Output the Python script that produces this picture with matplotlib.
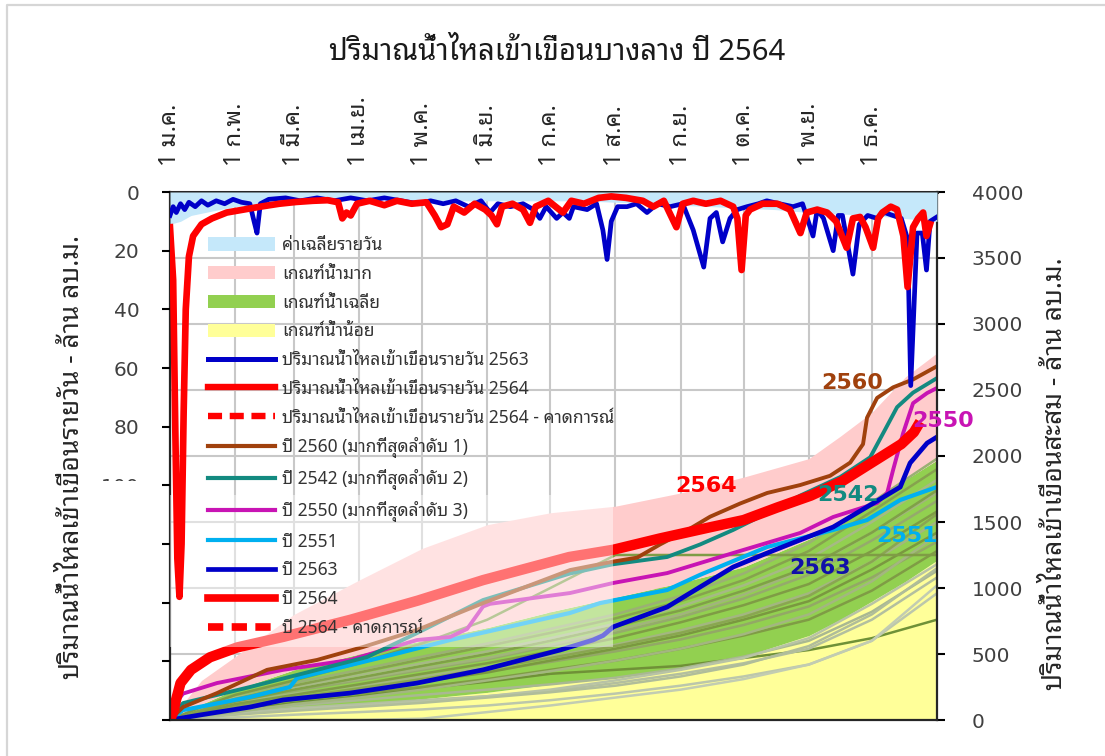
import matplotlib
matplotlib.use("Agg")
import matplotlib.pyplot as plt
from matplotlib import font_manager as fm
from matplotlib.patches import Patch, Rectangle
from matplotlib.lines import Line2D

# ---------- fonts: pick an installed family that has Thai glyphs ----------
_available = {f.name for f in fm.fontManager.ttflist}
_thai_candidates = ["Noto Sans Thai Looped", "IBM Plex Sans Thai Looped", "Sarabun",
                    "Noto Sans Thai", "Anuphan", "IBM Plex Sans Thai", "Bai Jamjuree",
                    "K2D", "Krub", "Niramit", "Kanit", "Prompt", "Mali", "Trirong"]
thai_font = next((n for n in _thai_candidates if n in _available), "DejaVu Sans")
plt.rcParams["font.family"] = [thai_font, "DejaVu Sans"]

# ---------- data ----------
title = "ปริมาณน้ำไหลเข้าเขื่อนบางลาง ปี 2564"
ylabel_left = "ปริมาณน้ำไหลเข้าเขื่อนรายวัน - ล้าน ลบ.ม."
ylabel_right = "ปริมาณน้ำไหลเข้าเขื่อนสะสม - ล้าน ลบ.ม."

month_days = [0, 31, 59, 90, 120, 151, 181, 212, 243, 273, 304, 334]
month_labels = ["1 ม.ค.", "1 ก.พ.", "1 มี.ค.", "1 เม.ย.", "1 พ.ค.", "1 มิ.ย.",
                "1 ก.ค.", "1 ส.ค.", "1 ก.ย.", "1 ต.ค.", "1 พ.ย.", "1 ธ.ค."]

# daily inflow (left axis, million m3)
avg_days = [0, 5, 10, 20, 31, 45, 59, 75, 90, 105, 120, 135, 151, 166, 181, 196,
            212, 227, 243, 258, 273, 288, 304, 319, 334, 349, 365]
avg_vals = [11, 10, 8, 6.5, 5, 4, 3, 2.5, 2.5, 2.5, 3, 3, 3, 3, 3, 3,
            3.5, 4, 4.5, 5, 5.5, 6, 7, 7.5, 8, 9, 10]

daily2563_days = [0, 1.5, 3, 5, 7, 9, 12, 15, 18, 22, 26, 30, 34, 38, 40, 41.4, 43, 47,
                  55, 62, 70, 78, 86, 94, 102, 110, 118, 124, 130, 136, 142, 148, 152.3,
                  156, 162, 168, 173, 176, 179, 184, 187, 190, 192, 198.5, 203, 206, 208,
                  210, 213, 217.5, 222, 227, 232, 238, 244, 249, 254, 257, 260, 263,
                  266.5, 270, 274.6, 280, 284, 290, 296.5, 301, 306, 308, 311, 315.6,
                  318, 320, 325, 328, 332, 336.5, 340, 344, 348, 351, 352.5, 354, 355.5,
                  358, 360, 361.7, 365]
daily2563_vals = [8, 5, 7, 4, 6, 3.5, 5, 3, 4.5, 3, 4, 2.5, 3.5, 4, 10, 14, 4, 2.5,
                  2, 3, 2, 3, 2, 3, 2, 3, 4, 3, 4, 3, 5, 3, 7,
                  4, 5, 4, 6, 9, 5, 9, 7, 9, 5, 6, 4, 13, 23,
                  10, 5, 5, 4, 7, 4, 5, 4, 13, 25.6, 9, 7, 17,
                  9, 6, 5, 4, 3, 4, 5, 4, 15, 6, 9, 20,
                  8, 8, 28, 11, 8, 9, 7, 8, 9, 16, 66, 40, 14,
                  14, 26.6, 10, 8.5]

daily2564_days = [0, 1.5, 2.5, 3.5, 4.5, 5.5, 6.5, 7.5, 9, 11, 15, 20, 27, 35, 43, 52,
                  60, 68, 75, 80, 82, 84, 86, 89, 95, 102, 108, 115, 122, 126, 129,
                  132, 135, 140, 145, 150, 153, 155.6, 158, 163, 168, 171.3, 174, 180,
                  187, 191, 197, 204, 210, 217, 225, 230, 235, 241, 244, 249, 255, 262,
                  268, 270, 272, 274, 276, 282, 289, 295, 300, 303, 308, 312.7, 317,
                  322, 325, 328.4, 331, 334.6, 337, 339, 343, 346, 349, 351, 353.6,
                  356, 358.4, 360, 361.7]
daily2564_vals = [12, 30, 80, 125, 138, 120, 75, 40, 22, 15, 11, 9, 7, 6, 5, 4,
                  3.4, 3, 2.8, 3.5, 9, 7, 8, 4, 3, 4.5, 3, 4, 3.5, 8, 12,
                  11, 5, 7, 4, 6, 8, 11, 5, 4, 6, 10.5, 5, 3,
                  7, 3, 4, 2, 1.5, 2, 3, 5, 3, 12, 4, 3, 4, 3,
                  5, 9, 26.6, 8, 6, 4, 4, 6, 14, 7, 6, 7, 10,
                  19, 9, 8.5, 12, 19, 9, 7, 5, 6, 15, 32.4, 12,
                  9, 7, 15, 11]

# cumulative inflow criteria bands (right axis, million m3)
band_days = [0, 15, 31, 59, 90, 120, 151, 181, 212, 243, 273, 304, 319, 334, 350, 365]
low_vals = [0, 20, 45, 80, 120, 160, 210, 270, 320, 380, 480, 640, 760, 900, 1050, 1210]
mid_vals = [0, 120, 230, 380, 500, 600, 700, 820, 930, 1040, 1160, 1370, 1480, 1640, 1820, 1970]
high_vals = [0, 300, 480, 800, 1060, 1300, 1480, 1570, 1620, 1720, 1840, 1980, 2150, 2330, 2600, 2780]

# other historical years (cumulative)
hist_days = [0, 15, 31, 59, 90, 120, 151, 181, 212, 243, 273, 304, 334, 365]
hist_years = [
    [0, 35, 70, 130, 180, 240, 290, 350, 380, 410, 470, 530, 620, 760],
    [0, 10, 20, 40, 60, 80, 110, 150, 200, 260, 330, 420, 600, 960],
    [0, 0, 0, 0, 0, 10, 60, 110, 170, 230, 310, 420, 600, 1020],
    [0, 30, 50, 90, 120, 150, 180, 220, 280, 350, 430, 540, 760, 1080],
    [0, 40, 70, 110, 150, 190, 230, 270, 320, 390, 480, 600, 820, 1130],
    [0, 25, 45, 80, 110, 140, 180, 230, 300, 380, 470, 620, 880, 1180],
    [0, 20, 40, 70, 100, 130, 170, 210, 260, 330, 420, 560, 800, 1150],
    [0, 50, 90, 150, 200, 250, 310, 380, 450, 540, 640, 760, 980, 1280],
    [0, 60, 110, 170, 230, 300, 370, 440, 520, 610, 720, 860, 1080, 1350],
    [0, 30, 60, 120, 170, 230, 300, 370, 450, 540, 650, 800, 1050, 1400],
    [0, 45, 100, 160, 220, 290, 360, 450, 540, 640, 760, 900, 1140, 1420],
    [0, 70, 130, 200, 260, 330, 400, 480, 570, 680, 800, 960, 1200, 1500],
    [0, 50, 100, 170, 240, 310, 390, 470, 560, 660, 780, 940, 1200, 1560],
    [0, 55, 120, 190, 270, 350, 430, 520, 620, 740, 870, 1030, 1280, 1580],
    [0, 80, 150, 220, 300, 380, 460, 560, 660, 780, 920, 1100, 1360, 1660],
    [0, 85, 160, 240, 310, 390, 470, 570, 680, 800, 950, 1150, 1420, 1720],
    [0, 65, 140, 230, 320, 410, 500, 600, 710, 830, 980, 1160, 1420, 1740],
    [0, 90, 170, 250, 340, 430, 520, 620, 730, 860, 1020, 1220, 1500, 1820],
    [0, 75, 160, 260, 360, 460, 560, 660, 770, 900, 1060, 1280, 1580, 1900],
    [0, 100, 190, 280, 380, 480, 580, 690, 800, 940, 1110, 1340, 1650, 1980],
    [0, 100, 190, 300, 430, 580, 760, 1000, 1250, 1250, 1250, 1250, 1250, 1250],
]
hist_colors = ["#6f9137", "#bcc7ab", "#c2ccb2", "#b3bf9f", "#a9b892", "#b8c3a6",
               "#b0bd9a", "#7f9c45", "#93a866", "#a3b680", "#7a9840", "#a3b680",
               "#8aa552", "#7f9c45", "#95aa6c", "#a1b47c", "#80a048", "#a6b985",
               "#86a24e", "#9bb074", "#7f9c45"]

cum2551_days = [0, 6.2, 38.1, 57.1, 60.4, 101.4, 133.3, 190.4, 204.7, 236.6, 252.3,
                284.2, 315.6, 331.7, 347.5, 365]
cum2551_vals = [0, 75, 174, 250, 318, 477, 606, 811, 886, 985, 1100,
                1311, 1440, 1515, 1667, 1765]

cum2550_days = [0, 3.8, 6.2, 22.4, 53.8, 85.7, 117.6, 133.3, 141.4, 149, 152.3, 190.4,
                210.9, 236.6, 268, 299.9, 315.6, 336.5, 341.3, 344.1, 348.9, 353.6,
                360.3, 365]
cum2550_vals = [0, 150, 200, 280, 380, 455, 606, 629, 690, 860, 880, 962,
                1038, 1113, 1265, 1417, 1538, 1644, 1720, 1894, 2174, 2400,
                2477, 2515]

cum2542_days = [0, 6.2, 38.1, 70, 93.8, 117.6, 149, 190.4, 210.9, 236.6, 252.3, 268,
                284.2, 299.9, 318.9, 333.2, 340.3, 346, 353.6, 365]
cum2542_vals = [0, 128, 250, 380, 477, 659, 909, 1110, 1180, 1235, 1330, 1440,
                1568, 1700, 1840, 1990, 2200, 2370, 2480, 2590]

cum2560_days = [0, 6.2, 22.4, 46.2, 70, 91.9, 117.6, 149, 190.4, 210.9, 222.3, 233.2,
                247.5, 257, 271.3, 284.2, 299.9, 314.1, 323.7, 329.8, 331.7, 336.5,
                344.1, 353.6, 365]
cum2560_vals = [0, 98, 204, 380, 455, 553, 682, 886, 1136, 1200, 1230, 1330,
                1450, 1540, 1640, 1720, 1780, 1850, 1950, 2090, 2290, 2440,
                2520, 2580, 2680]

cum2563_days = [0, 14.3, 38.1, 53.8, 85.7, 117.6, 149, 185.6, 201.3, 206.1, 210.9,
                236.6, 252.3, 268, 284.2, 299.9, 315.6, 331.7, 347.5, 352.2, 360.3, 365]
cum2563_vals = [0, 38, 98, 152, 204, 280, 380, 530, 606, 640, 705,
                856, 1008, 1159, 1265, 1364, 1462, 1614, 1765, 1947, 2098, 2144]

cum2564_days = [0, 1.5, 3, 5, 10, 19, 32, 54, 86, 118, 149, 190, 211, 233, 257, 273,
                289, 305, 320, 337, 348, 354, 357]
cum2564_vals = [0, 60, 160, 280, 380, 475, 550, 630, 760, 905, 1060, 1235, 1290,
                1375, 1460, 1515, 1610, 1700, 1810, 1980, 2090, 2180, 2260]

# ---------- colours ----------
c_avg = "#c5e8fa"
c_high = "#ffcccc"
c_mid = "#92d050"
c_low = "#ffff99"
c_blue = "#0000c8"
c_red = "#ff0000"
c_brown = "#a0410d"
c_teal = "#138a80"
c_mag = "#c814b4"
c_lblue = "#00b0f0"

# ---------- figure ----------
W, H = 1105, 756
fig = plt.figure(figsize=(W / 100, H / 100), dpi=100)
fig.patch.set_facecolor("white")
L, R, T, B = 170, 937, 192, 720
pos = [L / W, 1 - B / H, (R - L) / W, (B - T) / H]

ax2 = fig.add_axes(pos)               # cumulative (right axis), bottom layer
ax = fig.add_axes(pos, sharex=ax2)    # daily (left axis), top layer
ax.patch.set_visible(False)

# --- cumulative layer ---
ax2.fill_between(band_days, 0, low_vals, color=c_low, lw=0, zorder=1)
ax2.fill_between(band_days, low_vals, mid_vals, color=c_mid, lw=0, zorder=1)
ax2.fill_between(band_days, mid_vals, high_vals, color=c_high, lw=0, zorder=1)

for vals, col in zip(hist_years, hist_colors):
    ax2.plot(hist_days, vals, color=col, lw=1.8, zorder=2, solid_capstyle="round")

ax2.plot(cum2551_days, cum2551_vals, color=c_lblue, lw=3.0, zorder=2.2)
ax2.plot(cum2550_days, cum2550_vals, color=c_mag, lw=2.8, zorder=2.2)
ax2.plot(cum2542_days, cum2542_vals, color=c_teal, lw=2.8, zorder=2.2)
ax2.plot(cum2560_days, cum2560_vals, color=c_brown, lw=2.8, zorder=2.2)
ax2.plot(cum2563_days, cum2563_vals, color=c_blue, lw=3.4, zorder=2.3)
ax2.plot(cum2564_days, cum2564_vals, color=c_red, lw=7.5, zorder=2.4,
         solid_capstyle="butt")

# light veil over the first seven months of the upper curves
ax2.add_patch(Rectangle((0, 553), 211, 1150, facecolor="white", edgecolor="none",
                        alpha=0.45, zorder=2.6))

label_kw = dict(fontsize=16, fontweight="bold", family="DejaVu Sans",
                ha="center", va="center", zorder=3, clip_on=False)
ax2.text(255, 1773, "2564", color=c_red, **label_kw)
ax2.text(324.6, 2553, "2560", color=c_brown, **label_kw)
ax2.text(322.7, 1705, "2542", color=c_teal, **label_kw)
ax2.text(368, 2265, "2550", color=c_mag, **label_kw)
ax2.text(350.8, 1394, "2551", color=c_lblue, **label_kw)
ax2.text(309.4, 1152, "2563", color="#1010a8", **label_kw)

ax2.set_xlim(0, 365)
ax2.set_ylim(0, 4000)
ax2.set_yticks(range(0, 4001, 500))
ax2.yaxis.tick_right()
ax2.tick_params(axis="y", direction="out", length=6, width=1.5, pad=19,
                labelsize=14.5, labelcolor="#404040", labelfontfamily="DejaVu Sans")
ax2.tick_params(axis="x", length=0, labelbottom=False, labeltop=False)
ax2.grid(True, color="#c8c8c8", lw=1.5)
ax2.set_axisbelow(True)
for side, sp in ax2.spines.items():
    sp.set_color("#262626")
    sp.set_linewidth(1.6 if side != "top" else 2.2)

# --- daily layer ---
ax.fill_between(avg_days, 0, avg_vals, color=c_avg, lw=0, zorder=1)
ax.plot(daily2563_days, daily2563_vals, color=c_blue, lw=3.4, zorder=2)
ax.plot(daily2564_days, daily2564_vals, color=c_red, lw=4.8, zorder=3)

ax.set_ylim(180, 0)
ax.set_yticks(range(0, 181, 20))
ax.set_yticklabels([str(v) for v in range(0, 181, 20)])
ax.tick_params(axis="y", direction="out", length=6, width=1.5, pad=16,
               labelsize=14.5, labelcolor="#404040", labelfontfamily="DejaVu Sans")
ax.set_xticks(month_days)
ax.set_xticklabels(month_labels, rotation=90)
ax.tick_params(axis="x", top=True, bottom=False, labeltop=True, labelbottom=False,
               length=0, pad=19, labelsize=17, labelcolor="#262626")
ax.set_xlim(0, 365)
for sp in ax.spines.values():
    sp.set_visible(False)

# --- legend ---
handles = [
    Patch(facecolor=c_avg, edgecolor="none"),
    Patch(facecolor=c_high, edgecolor="none"),
    Patch(facecolor=c_mid, edgecolor="none"),
    Patch(facecolor=c_low, edgecolor="none"),
    Line2D([], [], color=c_blue, lw=3.6),
    Line2D([], [], color=c_red, lw=4.6),
    Line2D([], [], color=c_red, lw=4.6, ls=(0, (2.2, 1.2))),
    Line2D([], [], color=c_brown, lw=3.0),
    Line2D([], [], color=c_teal, lw=3.0),
    Line2D([], [], color=c_mag, lw=3.0),
    Line2D([], [], color=c_lblue, lw=3.0),
    Line2D([], [], color=c_blue, lw=3.4),
    Line2D([], [], color=c_red, lw=5.5),
    Line2D([], [], color=c_red, lw=5.5, ls=(0, (2.0, 1.1))),
]
labels = [
    "ค่าเฉลี่ยรายวัน",
    "เกณฑ์น้ำมาก",
    "เกณฑ์น้ำเฉลี่ย",
    "เกณฑ์น้ำน้อย",
    "ปริมาณน้ำไหลเข้าเขื่อนรายวัน 2563",
    "ปริมาณน้ำไหลเข้าเขื่อนรายวัน 2564",
    "ปริมาณน้ำไหลเข้าเขื่อนรายวัน 2564 - คาดการณ์",
    "ปี 2560 (มากที่สุดลำดับ 1)",
    "ปี 2542 (มากที่สุดลำดับ 2)",
    "ปี 2550 (มากที่สุดลำดับ 3)",
    "ปี 2551",
    "ปี 2563",
    "ปี 2564",
    "ปี 2564 - คาดการณ์",
]
leg_fs = 12.5
leg = ax.legend(handles, labels, loc="upper left",
                bbox_to_anchor=((208 - L) / (R - L), 1 - (236 - T) / (B - T)),
                frameon=False, fontsize=leg_fs, handlelength=67 / (leg_fs * 100 / 72),
                handleheight=0.8, handletextpad=0.4, labelspacing=0.62,
                borderpad=0, borderaxespad=0)
for t in leg.get_texts():
    t.set_color("#333333")

# --- titles and axis names ---
fig.text(557 / W, 1 - 52 / H, title, ha="center", va="center", fontsize=21,
         color="#1a1a1a")
fig.text(72 / W, 1 - 457 / H, ylabel_left, rotation=90, ha="center", va="center",
         fontsize=19, color="#262626")
fig.text(1055 / W, 1 - 474 / H, ylabel_right, rotation=90, ha="center", va="center",
         fontsize=19, color="#262626")

# white panel over the lower left tick labels
fig.add_artist(Rectangle((88 / W, 1 - 740 / H), (157 - 88) / W, (740 - 481) / H,
                         transform=fig.transFigure, facecolor="white",
                         edgecolor="none", zorder=10))
# thin outer frame on the left and top
fig.add_artist(Line2D([7 / W, 7 / W, 1], [0, 1 - 5 / H, 1 - 5 / H],
                      transform=fig.transFigure, color="#d6d6d6", lw=1.6))

fig.savefig("out.png", dpi=100)
